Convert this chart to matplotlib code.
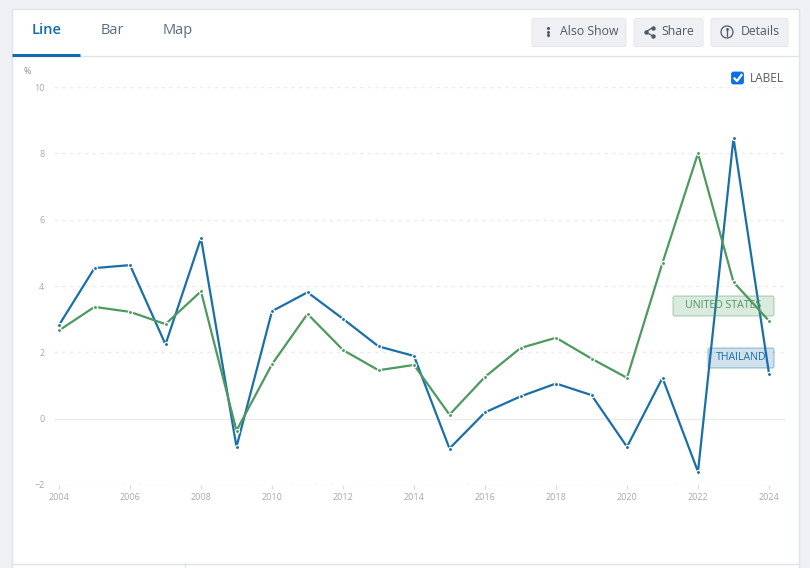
import matplotlib
matplotlib.use("Agg")
import matplotlib.pyplot as plt
from matplotlib.patches import FancyBboxPatch, Rectangle, Circle

W, H = 810, 568

years = list(range(2004, 2025))
thailand = [2.82, 4.54, 4.63, 2.24, 5.44, -0.85, 3.24, 3.81, 3.01, 2.18, 1.89,
            -0.90, 0.19, 0.67, 1.06, 0.71, -0.85, 1.23, -1.60, 8.46, 1.36]
united_states = [2.66, 3.37, 3.22, 2.85, 3.84, -0.36, 1.64, 3.16, 2.07, 1.46, 1.62,
                 0.12, 1.26, 2.13, 2.44, 1.81, 1.23, 4.70, 8.00, 4.12, 2.95]
y_ticks = [-2, 0, 2, 4, 6, 8, 10]
x_ticks = list(range(2004, 2025, 2))
tabs = ["Line", "Bar", "Map"]
tab_x = [46.5, 112, 177.5]

BLUE = "#1a6fa8"
GREEN = "#4c9a5d"
TAB_BLUE = "#0f6cb0"
GREY = "#a8a8a8"

plt.rcParams["font.family"] = ["Open Sans", "DejaVu Sans"]

fig = plt.figure(figsize=(W / 100, H / 100), dpi=100, facecolor="#eef0f4")


def pixel_axes(zorder):
    a = fig.add_axes([0, 0, 1, 1], zorder=zorder)
    a.set_xlim(0, W)
    a.set_ylim(H, 0)
    a.axis("off")
    return a


# page furniture, drawn in pixel coordinates
ui = pixel_axes(0)
ui.add_patch(Rectangle((12, 9), 787, 570, fc="white", ec="#dfe4ea", lw=1))
ui.plot([12, 799], [56, 56], color="#dfe4ea", lw=1)
ui.plot([12, 80], [55, 55], color=TAB_BLUE, lw=2.2, solid_capstyle="butt")
ui.plot([12, 799], [563.5, 563.5], color="#dfe4ea", lw=1)
ui.plot([184.5, 184.5], [563, 568], color="#dfe4ea", lw=1)

for name, x in zip(tabs, tab_x):
    selected = name == "Line"
    ui.text(x, 30, name, ha="center", va="center", fontsize=10.5,
            color=TAB_BLUE if selected else "#567083",
            fontweight="semibold" if selected else "normal")

buttons = [(531, 96, "Also Show", 559.5), (633, 71, "Share", 661), (710, 79, "Details", 740.5)]
for x, w, label, text_x in buttons:
    ui.add_patch(FancyBboxPatch((x + 1, 18.5), w - 2, 28, boxstyle="round,pad=0,rounding_size=2",
                                fc="#eef0f4", ec="#e6e8ec", lw=0.8))
    ui.text(text_x, 31.5, label, ha="left", va="center", fontsize=8.8, color="#505a62")

# button icons
ui.plot([547.5] * 3, [28, 31.5, 35], ls="none", marker="o", ms=1.2, color="#505a62")
ui.plot([653, 645.5, 653], [27.5, 32, 36], color="#505a62", lw=0.9, marker="o", ms=2.2)
ui.add_patch(Circle((727, 32), 6, fc="none", ec="#505a62", lw=0.9))
ui.plot([727, 727], [31, 35.5], color="#505a62", lw=0.9)
ui.plot([727], [28.8], marker="o", ms=1.1, color="#505a62")

# label checkbox
ui.add_patch(FancyBboxPatch((731.5, 72), 12, 12, boxstyle="round,pad=0,rounding_size=2",
                            fc="#0b6fe8", ec="#0b6fe8", lw=0.6))
ui.plot([734.5, 737, 741.5], [78.5, 81, 75], color="white", lw=1.6)
ui.text(749.5, 78, "LABEL", ha="left", va="center", fontsize=8.6, color="#555d66")
ui.text(27, 71.5, "%", ha="center", va="center", fontsize=6.5, color="#8c8c8c")

# chart area
left, right, top, bottom = 54, 786, 87, 485
ax = fig.add_axes([left / W, 1 - bottom / H, (right - left) / W, (bottom - top) / H], zorder=1)
ax.patch.set_alpha(0)
px_year = 35.5
ax.set_xlim(2004 - (59 - left) / px_year, 2004 + (right - 59) / px_year)
ax.set_ylim(-2, 10)
for s in ax.spines.values():
    s.set_visible(False)

for v in y_ticks:
    if v == 0:
        ax.axhline(v, color="#ececec", lw=1, zorder=1)
    else:
        ax.axhline(v, color="#ececec", lw=1, dashes=(2.5, 3), zorder=1)

ax.set_yticks(y_ticks)
ax.set_xticks(x_ticks)
ax.tick_params(axis="y", length=0, pad=7, labelsize=6.5, labelcolor=GREY)
ax.tick_params(axis="x", length=3, width=1, color="#dddddd", pad=3, labelsize=6.5, labelcolor=GREY)

for series, color in [(thailand, BLUE), (united_states, GREEN)]:
    ax.plot(years, series, color=color, lw=1.6, zorder=3, clip_on=False)
    ax.plot(years, series, ls="none", marker="o", ms=3.0, mfc=color, mec="white", mew=0.9,
            zorder=4, clip_on=False)

# series labels sit over the lines with fixed pixel boxes
over = pixel_axes(2)
labels = [("UNITED STATES", 673, 296, 101, 20, GREEN), ("THAILAND", 708, 348, 66, 20, BLUE)]
for text, x, y, w, h, color in labels:
    over.add_patch(FancyBboxPatch((x, y), w, h, boxstyle="round,pad=0,rounding_size=2",
                                  fc=color + "33", ec=color + "55", lw=1))
    over.text(x + w / 2, y + h / 2, text, ha="center", va="center", fontsize=7.6, color=color)

fig.savefig("out.png", dpi=100, facecolor=fig.get_facecolor())
